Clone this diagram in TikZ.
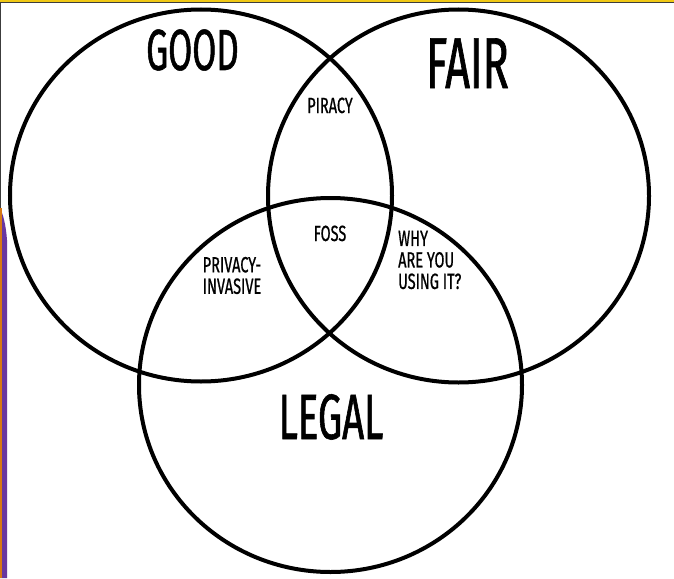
\documentclass[tikz,border=0pt]{standalone}
\usepackage{fontspec}
\newfontfamily\condfont[FakeStretch=0.6,FakeBold=0.9]{Fira Sans}
\newfontfamily\condsmall[FakeStretch=0.66,FakeBold=0.7]{Fira Sans}
\definecolor{slidegold}{RGB}{240,200,20}
\definecolor{slideedge}{RGB}{60,60,60}
\definecolor{slideorange}{RGB}{215,120,20}
\definecolor{slidepurple}{RGB}{105,55,160}
\begin{document}
\begin{tikzpicture}[x=1pt,y=-1pt,
  ring/.style={draw=black,line width=4pt},
  bigtitle/.style={font=\condfont\fontsize{#1}{#1}\selectfont,anchor=base,inner sep=0pt},
  smalltext/.style={font=\condsmall\fontsize{22}{21.5}\selectfont,inner sep=0pt}]
  \useasboundingbox (0,0) rectangle (674,578);
  \fill[white] (0,0) rectangle (674,578);
  % frame edges
  \fill[slideedge] (0,0) rectangle (1.3,212);
  \fill[slidepurple] (0,208) .. controls (3,214) and (6,225) .. (7,240) -- (7,578) -- (0,578) -- cycle;
  \fill[slideorange] (0,208) rectangle (1.5,578);
  \fill[slidegold] (0,0) rectangle (674,1.6);
  \fill[slideedge] (0,1.6) rectangle (674,2.2);
  % the three sets
  \draw[ring] (201,195.5) ellipse [x radius=191, y radius=186];
  \draw[ring] (458.5,196) ellipse [x radius=190.5, y radius=186.5];
  \draw[ring] (330.5,385) ellipse [x radius=191.5, y radius=187];
  % set titles
  \node[bigtitle=58] (good) at (192.5,70) {GOOD};
  \node[bigtitle=72] (fair) at (467.5,88) {FAIR};
  \node[bigtitle=64] (legal) at (331,439) {LEGAL};
  % overlap labels
  \node[smalltext,anchor=base] (piracy) at (330,113) {PIRACY};
  \node[smalltext,anchor=base] (foss) at (330,241) {FOSS};
  \node[smalltext,align=center] (privacy) at (232,275.5) {PRIVACY-\\INVASIVE};
  \node[smalltext,align=left,anchor=west] (why) at (398,260) {WHY\\ARE YOU\\USING IT?};
\end{tikzpicture}
\end{document}
